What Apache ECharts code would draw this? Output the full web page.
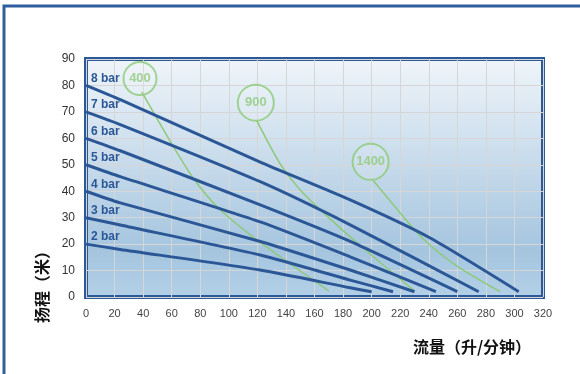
<!DOCTYPE html>
<html>
<head>
<meta charset="utf-8">
<script src="https://cdn.jsdelivr.net/npm/echarts@6/dist/echarts.min.js"></script>
<style>
    html, body { margin: 0; padding: 0; background: #fff; }
    #chart { width: 580px; height: 374px; }
</style>
</head>
<body>
<div id="chart"></div>
<script>
    // 压力曲线 (bar)
    var barNames = ['2 bar', '3 bar', '4 bar', '5 bar', '6 bar', '7 bar', '8 bar'];
    var bar2 = [[0, 20], [24, 18], [122, 10.2], [185, 3.5], [200, 2]];
    var bar3 = [[0, 30], [24, 27.2], [122, 15.9], [185, 6.4], [215, 2]];
    var bar4 = [[0, 40], [24, 35.6], [122, 21], [185, 10.2], [230, 2]];
    var bar5 = [[0, 50], [24, 45.5], [122, 28.4], [185, 15.2], [245, 2]];
    var bar6 = [[0, 60], [24, 55.3], [122, 34.8], [185, 21], [260, 2]];
    var bar7 = [[0, 70], [24, 65.2], [122, 43.6], [185, 27.3], [275, 2]];
    var bar8 = [[0, 80], [24, 74.6], [122, 51], [185, 36.7], [241, 22.3], [303, 2]];

    // 空气消耗曲线
    var airNames = ['400', '900', '1400'];
    var air400 = [[39, 77.6], [50, 67.2], [61, 57], [75, 45], [92, 34], [115, 23.5], [141, 13.3], [170, 2.3]];
    var air900 = [[119.6, 66.7], [128, 58], [137, 49.5], [150, 40.5], [170, 30], [193, 19], [230, 2.3]];
    var air1400 = [[200.7, 44.3], [215, 35], [236, 22], [259, 12], [290, 2]];
    var airLabelPos = [[37.8, 82.6], [118.9, 73.5], [199.3, 51.1]];

    var xMax = 320, xStep = 20;
    var yMax = 90, yStep = 10;

    var blue = '#2b5797';
    var green = '#8dca78';

    var myChart = echarts.init(document.getElementById('chart'));

    var barData = [bar2, bar3, bar4, bar5, bar6, bar7, bar8];
    var airData = [air400, air900, air1400];

    var series = [];
    barData.forEach(function (d, i) {
        series.push({
            name: barNames[i],
            type: 'line',
            smooth: 0.2,
            symbol: 'circle',
            symbolSize: 0,
            lineStyle: { color: blue, width: 3, join: 'round' },
            itemStyle: { color: blue },
            data: d.map(function (p, j) {
                if (j === 0) {
                    return {
                        value: p,
                        label: {
                            show: true,
                            position: 'right',
                            offset: [0, -7],
                            formatter: barNames[i],
                            color: '#2b5797',
                            fontWeight: 'bold',
                            fontSize: 12,
                            fontFamily: 'Liberation Sans'
                        }
                    };
                }
                return p;
            }),
            z: 3
        });
    });
    airData.forEach(function (d, i) {
        series.push({
            name: airNames[i],
            type: 'line',
            smooth: 0.25,
            symbol: 'none',
            lineStyle: { color: green, width: 1.5 },
            data: d,
            z: 2
        });
    });
    // 圆圈标签
    series.push({
        type: 'scatter',
        symbol: 'circle',
        symbolSize: function (v, p) { return p.dataIndex === 0 ? 33 : 36; },
        itemStyle: { color: 'rgba(255,255,255,0.15)', borderColor: green, borderWidth: 2 },
        label: {
            show: true,
            position: 'inside',
            formatter: function (p) { return airNames[p.dataIndex]; },
            color: green,
            fontWeight: 'bold',
            fontSize: 13,
            fontFamily: 'Liberation Sans'
        },
        data: airLabelPos,
        z: 4
    });

    var option = {
        animation: false,
        grid: {
            left: 86,
            right: 37,
            top: 59,
            bottom: 77,
            show: true,
            borderColor: '#2c5a98',
            borderWidth: 4,
            backgroundColor: new echarts.graphic.LinearGradient(0, 0, 0, 1, [
                { offset: 0, color: '#f0f5fa' },
                { offset: 0.8, color: '#a5c5df' },
                { offset: 1, color: '#b3d0e7' }
            ])
        },
        xAxis: {
            type: 'value',
            min: 0,
            max: xMax,
            interval: xStep,
            axisLine: { show: false },
            axisTick: { show: false },
            axisLabel: { color: '#444', fontSize: 11, margin: 11, fontFamily: 'Liberation Sans' },
            splitLine: { show: true, lineStyle: { color: '#d6d6d6', width: 1 } }
        },
        yAxis: {
            type: 'value',
            min: 0,
            max: yMax,
            interval: yStep,
            axisLine: { show: false },
            axisTick: { show: false },
            axisLabel: { color: '#333', fontSize: 12, margin: 11, fontFamily: 'Liberation Sans' },
            splitLine: { show: true, lineStyle: { color: '#d6d6d6', width: 1 } }
        },
        graphic: [
            {//外框
                type: 'rect',
                shape: { x: 4, y: 6, width: 600, height: 400 },
                style: { fill: 'none', stroke: '#2f5f9e', lineWidth: 3 },
                z: -1
            },
            {
                type: 'text',
                x: 42,
                y: 283,
                rotation: Math.PI / 2,
                style: {
                    text: '扬程（米）',
                    fill: '#111',
                    font: 'bold 16px "Noto Sans CJK SC"',
                    align: 'center',
                    verticalAlign: 'middle'
                }
            },
            {
                type: 'text',
                x: 472,
                y: 347,
                style: {
                    text: '流量（升/分钟）',
                    fill: '#111',
                    font: 'bold 16px "Noto Sans CJK SC"',
                    align: 'center',
                    verticalAlign: 'middle'
                }
            }
        ],
        series: series
    };
    myChart.setOption(option);
</script>
</body>
</html>
